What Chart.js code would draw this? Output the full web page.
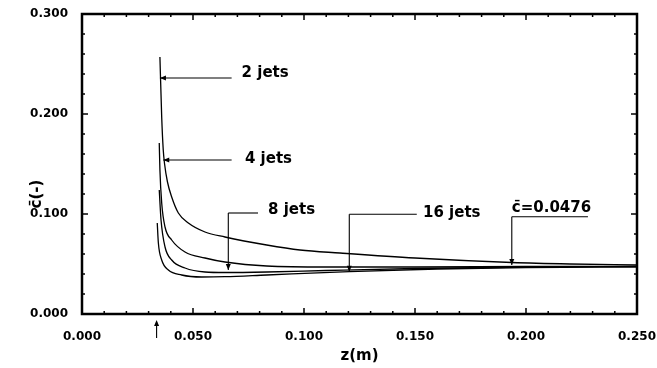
<!DOCTYPE html>
<html>
<head>
<meta charset="utf-8">
<script src="https://cdn.jsdelivr.net/npm/chart.js@4/dist/chart.umd.min.js"></script>
<style>
  html, body { margin: 0; padding: 0; background: #fff; }
  #wrap { width: 657px; height: 368px; }
</style>
</head>
<body>
<div id="wrap"><canvas id="chart"></canvas></div>
<script>
// mean concentration c(-) along the mixer axis z(m)
const z2 = [0.0351, 0.0359, 0.0366, 0.0372, 0.0385, 0.0404, 0.0434, 0.0479, 0.0554, 0.0644, 0.0832, 0.0982, 0.1162, 0.1500, 0.1936, 0.2198, 0.2500]
const c2 = [0.257, 0.197, 0.164, 0.150, 0.132, 0.117, 0.101, 0.091, 0.082, 0.077, 0.069, 0.064, 0.061, 0.056, 0.0515, 0.050, 0.049]

const z4 = [0.0348, 0.0351, 0.0359, 0.0374, 0.0404, 0.0464, 0.0554, 0.0644, 0.0832, 0.1100, 0.1500, 0.2000, 0.2500]
const c4 = [0.171, 0.144, 0.111, 0.087, 0.074, 0.062, 0.056, 0.052, 0.048, 0.047, 0.047, 0.0475, 0.0476]

const z8 = [0.0348, 0.0356, 0.0374, 0.0404, 0.0464, 0.0554, 0.0644, 0.0832, 0.1100, 0.1500, 0.2000, 0.2500]
const c8 = [0.124, 0.094, 0.067, 0.054, 0.046, 0.042, 0.0415, 0.042, 0.0435, 0.0455, 0.047, 0.0476]

const z16 = [0.0339, 0.0344, 0.0359, 0.0389, 0.0449, 0.0539, 0.0644, 0.0832, 0.1204, 0.1600, 0.2000, 0.2500]
const c16 = [0.091, 0.071, 0.054, 0.044, 0.039, 0.037, 0.0373, 0.039, 0.0423, 0.045, 0.0465, 0.047]

// axis ticks
const xMajor = [0, 0.05, 0.1, 0.15, 0.2, 0.25]
const yMajor = [0, 0.1, 0.2, 0.3]
const xMinorStep = 0.01
const yMinorStep = 0.02

// callouts: text, text anchor, leader bar and arrow tip (data units)
const noteText = ["2 jets", "4 jets", "8 jets", "16 jets", "c\u0304=0.0476"]
const noteTextZ = [0.0719, 0.0734, 0.0838, 0.1536, 0.1936]
const noteTextC = [0.237, 0.151, 0.100, 0.097, 0.102]
const noteBarC = [0.236, 0.154, 0.101, 0.0997, 0.0973]
const noteBarZ0 = [0.0351, 0.0366, 0.0659, 0.1204, 0.1936]
const noteBarZ1 = [0.0674, 0.0674, 0.0793, 0.1508, 0.2279]
const noteTipZ = [0.0351, 0.0366, 0.0659, 0.1204, 0.1936]
const noteTipC = [0.236, 0.154, 0.044, 0.0423, 0.049]

const inletZ = 0.0336

const FONT = "'DejaVu Sans', 'Liberation Sans', Arial, sans-serif"

function pts(zs, cs) {
  return zs.map((z, i) => ({x: z, y: cs[i]}))
}

function line(ctx, x0, y0, x1, y1) {
  ctx.beginPath()
  ctx.moveTo(x0, y0)
  ctx.lineTo(x1, y1)
  ctx.stroke()
}

function arrowHead(ctx, fromX, fromY, tipX, tipY) {
  const ang = Math.atan2(tipY - fromY, tipX - fromX)
  const len = 6, half = 2.5
  ctx.beginPath()
  ctx.moveTo(tipX, tipY)
  ctx.lineTo(tipX - len * Math.cos(ang) + half * Math.sin(ang), tipY - len * Math.sin(ang) - half * Math.cos(ang))
  ctx.lineTo(tipX - len * Math.cos(ang) - half * Math.sin(ang), tipY - len * Math.sin(ang) + half * Math.cos(ang))
  ctx.closePath()
  ctx.fill()
}

const frameAndNotes = {
  id: "frameAndNotes",
  afterDatasetsDraw(chart) {
    const {ctx, chartArea: a, scales: {x, y}} = chart
    ctx.save()
    ctx.strokeStyle = "#000"
    ctx.fillStyle = "#000"

    // inward ticks on all four sides
    ctx.lineWidth = 1.5
    for (let v = 0; v <= 0.25 + 1e-9; v += xMinorStep) {
      const major = xMajor.some(m => Math.abs(m - v) < 1e-6)
      const len = major ? 6 : 3
      const px = x.getPixelForValue(v)
      line(ctx, px, a.bottom, px, a.bottom - len)
      line(ctx, px, a.top, px, a.top + len)
    }
    for (let v = 0; v <= 0.3 + 1e-9; v += yMinorStep) {
      const major = yMajor.some(m => Math.abs(m - v) < 1e-6)
      const len = major ? 6 : 3
      const py = y.getPixelForValue(v)
      line(ctx, a.left, py, a.left + len, py)
      line(ctx, a.right, py, a.right - len, py)
    }

    // frame
    ctx.lineWidth = 2.5
    ctx.strokeRect(a.left, a.top, a.right - a.left, a.bottom - a.top)

    // callouts
    ctx.lineWidth = 1.1
    ctx.font = "bold 15px " + FONT
    ctx.textBaseline = "alphabetic"
    ctx.textAlign = "left"
    noteText.forEach((t, i) => {
      const bx0 = x.getPixelForValue(noteBarZ0[i])
      const bx1 = x.getPixelForValue(noteBarZ1[i])
      const by = y.getPixelForValue(noteBarC[i])
      const tx = x.getPixelForValue(noteTipZ[i])
      const ty = y.getPixelForValue(noteTipC[i])
      line(ctx, bx1, by, bx0, by)
      if (Math.abs(ty - by) > 1) {
        line(ctx, bx0, by, tx, ty)
        arrowHead(ctx, bx0, by, tx, ty)
      } else {
        arrowHead(ctx, bx1, by, tx, ty)
      }
      ctx.fillText(t, x.getPixelForValue(noteTextZ[i]), y.getPixelForValue(noteTextC[i]))
    })

    // inlet arrow under the axis
    const ix = x.getPixelForValue(inletZ)
    ctx.lineWidth = 1.1
    line(ctx, ix, a.bottom + 24, ix, a.bottom + 8)
    arrowHead(ctx, ix, a.bottom + 24, ix, a.bottom + 6)

    // y axis title
    ctx.save()
    ctx.translate(37, a.top + (a.bottom - a.top) * 0.6)
    ctx.rotate(-Math.PI / 2)
    ctx.textAlign = "center"
    ctx.textBaseline = "middle"
    ctx.font = "bold 15px " + FONT
    ctx.fillText("c\u0304(-)", 0, 0)
    ctx.restore()

    ctx.restore()
  },
}

const curveStyle = {
  showLine: true,
  borderColor: "#000",
  borderWidth: 1.3,
  pointRadius: 0,
  cubicInterpolationMode: "monotone",
  fill: false,
}

const tickFont = {family: FONT, size: 12, weight: "bold"}

new Chart(document.getElementById("chart"), {
  type: "scatter",
  data: {
    datasets: [
      {label: "2 jets", data: pts(z2, c2), ...curveStyle},
      {label: "4 jets", data: pts(z4, c4), ...curveStyle},
      {label: "8 jets", data: pts(z8, c8), ...curveStyle},
      {label: "16 jets", data: pts(z16, c16), ...curveStyle},
    ],
  },
  options: {
    responsive: true,
    maintainAspectRatio: false,
    animation: false,
    layout: {padding: {top: 14, right: 20, left: 0, bottom: 0}},
    plugins: {legend: {display: false}, tooltip: {enabled: false}},
    scales: {
      x: {
        type: "linear",
        min: 0,
        max: 0.25,
        grid: {display: false},
        border: {display: false},
        ticks: {
          stepSize: 0.05,
          color: "#000",
          font: tickFont,
          padding: 8,
          maxRotation: 0,
          callback: (v) => v.toFixed(3),
        },
        title: {
          display: true,
          text: "z(m)",
          color: "#000",
          font: {family: FONT, size: 15, weight: "bold"},
          padding: {top: 0, bottom: 3},
        },
        afterFit: (scale) => {
          scale.height = 54
          scale.paddingLeft = 0
          scale.paddingRight = 0
        },
      },
      y: {
        type: "linear",
        min: 0,
        max: 0.3,
        grid: {display: false},
        border: {display: false},
        ticks: {
          stepSize: 0.1,
          color: "#000",
          font: tickFont,
          padding: 6,
          callback: (v) => v.toFixed(3),
        },
        afterFit: (scale) => {
          scale.width = 82
          scale.paddingTop = 0
          scale.paddingBottom = 0
        },
      },
    },
  },
  plugins: [frameAndNotes],
})
</script>
</body>
</html>
